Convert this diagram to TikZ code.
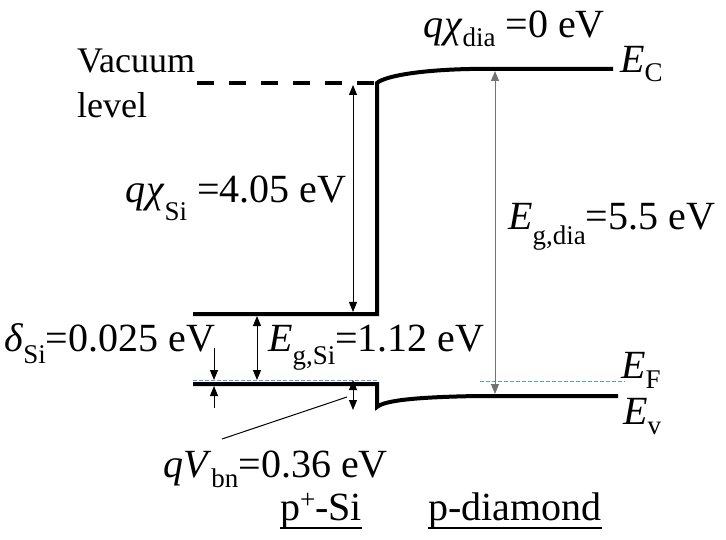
\documentclass[tikz,border=0pt]{standalone}
\usepackage{fontspec}
\setmainfont{Liberation Serif}
\usetikzlibrary{arrows.meta}
\newcommand\sbx[2][0.3em]{\raisebox{-#1}{\fontsize{27}{27}\selectfont #2}}
\newcommand\spx[1]{\raisebox{0.3em}{\fontsize{27}{27}\selectfont #1}}
\begin{document}
\begin{tikzpicture}[x=1pt,y=-1pt,
  band/.style={line width=4pt},
  vac/.style={line width=4pt, dash pattern=on 17pt off 15pt},
  efl/.style={line width=1pt, color=efblue, dash pattern=on 4pt off 2pt},
  dim/.style={line width=1pt, {Triangle[length=10pt,width=8pt]}-{Triangle[length=10pt,width=8pt]}},
  one/.style={line width=1pt, -{Triangle[length=10pt,width=8pt]}},
  lbl/.style={inner sep=0pt, anchor=base west, font=\fontsize{40}{44}\selectfont},
  slbl/.style={inner sep=0pt, anchor=base west, font=\fontsize{36}{40}\selectfont}]
\definecolor{efblue}{RGB}{91,155,213}
\useasboundingbox (0,0) rectangle (726,540);
% band lines
\coordinate (vacL) at (197,83);
\coordinate (vacR) at (376,83);
\draw[vac] (vacL) -- (vacR);
\coordinate (ecSiL) at (193,314);
\coordinate (ecSiR) at (377,314);
\coordinate (jTop) at (377,83);
\coordinate (ecDia) at (470,69);
\coordinate (ecDiaR) at (613,69);
\draw[band] (ecSiL) -- (ecSiR) -- (jTop) .. controls (385,76) and (420,70) .. (ecDia) -- (ecDiaR);
\coordinate (evSiL) at (193,384);
\coordinate (evSiR) at (377,384);
\coordinate (jBot) at (377,407);
\coordinate (evDia) at (478,396);
\coordinate (evDiaR) at (618,396);
\draw[band] (evSiL) -- (evSiR) -- (jBot) .. controls (385,400) and (420,397) .. (evDia) -- (evDiaR);
% Fermi levels
\coordinate (efSiL) at (193,380);
\coordinate (efSiR) at (377,380);
\coordinate (efDiaL) at (480,381);
\coordinate (efDiaR) at (625,381);
\draw[efl] (efSiL) -- (efSiR);
\draw[efl] (efDiaL) -- (efDiaR);
% dimension arrows
\coordinate (chiT) at (353,85);
\coordinate (chiB) at (353,312);
\draw[dim] (chiT) -- (chiB);
\coordinate (gdT) at (495,71);
\coordinate (gdB) at (495,394);
\draw[dim, draw=black!55, fill=black] (gdT) -- (gdB);
\coordinate (gsT) at (257,316);
\coordinate (gsB) at (257,380);
\draw[dim] (gsT) -- (gsB);
\coordinate (dA) at (214,348);
\coordinate (dB) at (214,380);
\draw[one] (dA) -- (dB);
\coordinate (dC) at (214,408);
\coordinate (dD) at (214,386);
\draw[one] (dC) -- (dD);
\coordinate (vbT) at (353,380);
\coordinate (vbB) at (353,410);
\draw[dim] (vbT) -- (vbB);
\coordinate (leadA) at (347,397);
\coordinate (leadB) at (222,439);
\draw[line width=1pt] (leadA) -- (leadB);
% labels
\node[slbl] (vac1) at (77,73) {Vacuum};
\node[slbl] (vac2) at (77,118) {level};
\node[lbl] (chisi) at (125,203) {\textit{q}\kern1pt\textit{χ}\sbx[0.45em]{Si} =4.05 eV};
\node[lbl] (chidia) at (423,38) {\textit{q}\kern1pt\textit{χ}\sbx[0.22em]{dia} =0 eV};
\node[lbl] (ec) at (620,73) {\textit{E}\sbx[0.22em]{C}};
\node[lbl] (egdia) at (508,230) {\textit{E}\sbx[0.36em]{g,dia}=5.5 eV};
\node[lbl] (delta) at (4,352) {\textit{δ}\sbx[0.3em]{Si}=0.025 eV};
\node[lbl] (egsi) at (268,352) {\textit{E}\sbx[0.32em]{g,Si}=1.12 eV};
\node[lbl] (ef) at (621,378) {\textit{E}\sbx[0.25em]{F}};
\node[lbl] (ev) at (623,424) {\textit{E}\sbx[0.25em]{v}};
\node[lbl] (qvbn) at (163,477) {\textit{qV}\sbx[0.25em]{bn}=0.36 eV};
\node[lbl] (psi) at (280,520) {p\spx{+}-Si};
\node[lbl] (pdia) at (428,520) {p-diamond};
\draw[line width=2.5pt] ([yshift=-8pt]psi.base west) -- ([yshift=-8pt]psi.base east);
\draw[line width=2.5pt] ([yshift=-8pt]pdia.base west) -- ([yshift=-8pt]pdia.base east);
\end{tikzpicture}
\end{document}
